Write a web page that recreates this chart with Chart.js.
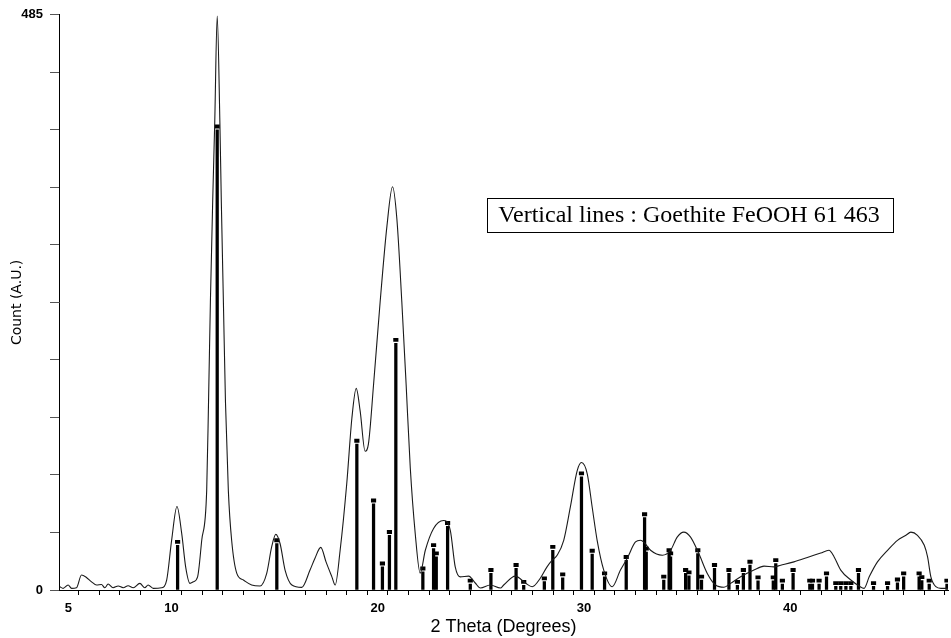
<!DOCTYPE html>
<html>
<head>
<meta charset="utf-8">
<title>XRD pattern - Goethite</title>
<script src="https://cdn.jsdelivr.net/npm/chart.js@4.4.0/dist/chart.umd.min.js"></script>
<style>
  html, body { margin: 0; padding: 0; background: #fff; }
  .chart-container { position: relative; width: 951px; height: 638px; }
</style>
</head>
<body>
<div class="chart-container">
  <canvas id="myChart"></canvas>
</div>
<script>
// measured pattern (2 theta, counts)
const twoTheta = [
  4.59, 4.75, 4.99, 5.16, 5.40, 5.64, 5.88, 6.13, 6.37, 6.61, 6.77, 6.93, 7.17, 7.42, 7.66, 7.90,
  8.15, 8.47, 8.71, 8.87, 9.12, 9.52, 9.77, 10.01, 10.27, 10.50, 10.69, 10.90, 11.06, 11.27, 11.47,
  11.71, 11.80, 11.89, 12.00, 12.10, 12.22, 12.35, 12.42, 12.52, 12.62, 12.76, 12.92, 13.17, 13.49,
  13.89, 14.30, 14.62, 14.86, 15.06, 15.27, 15.51, 15.84, 16.32, 16.72, 16.96, 17.24, 17.50, 17.78,
  17.94, 18.18, 18.50, 18.75, 18.96, 19.15, 19.39, 19.55, 19.80, 20.12, 20.45, 20.72, 20.93, 21.17,
  21.38, 21.58, 21.82, 22.06, 22.31, 22.71, 23.19, 23.52, 23.76, 24.00, 24.41, 24.73, 24.98, 25.46,
  25.95, 26.11, 26.67, 27.16, 27.49, 27.89, 28.21, 28.46, 28.70, 29.02, 29.34, 29.67, 29.88, 30.16,
  30.40, 30.64, 30.96, 31.37, 31.77, 32.10, 32.50, 32.74, 32.90, 33.23, 33.80, 34.20, 34.52, 34.84,
  35.17, 35.57, 35.98, 36.38, 36.79, 37.11, 37.60, 38.24, 38.73, 39.21, 39.54, 40.18, 40.83, 41.48,
  41.88, 42.13, 42.45, 42.94, 43.34, 43.58, 43.83, 44.23, 44.72, 45.20, 45.61, 45.85, 46.17, 46.50,
  46.66, 46.82, 47.06, 47.31, 47.65
];
const counts = [
  2.8, 1.4, 4.2, 1.4, 1.9, 12.6, 10.6, 6.9, 4.2, 4.7, 1.9, 5.0, 1.9, 3.4, 1.9, 3.6,
  1.9, 5.6, 1.9, 4.2, 1.4, 1.9, 8.4, 41.9, 70.4, 47.5, 19.5, 5.6, 6.9, 11.1, 41.9,
  83.8, 159, 243, 327, 394, 484, 394, 327, 243, 159, 83.8, 41.9, 14.0, 8.4,
  4.2, 3.4, 14.0, 36.3, 46.9, 39.0, 16.8, 4.2, 2.2, 16.8, 26.8, 35.9, 23.5, 11.1,
  4.2, 33.5, 89.6, 145, 170, 151, 117, 123, 173, 243, 307, 340, 313, 243,
  173, 103, 47.7, 14.2, 33.5, 51.9, 58.6, 50.3, 19.5, 11.1, 11.7, 5.9, 1.7, 4.2,
  1.7, 4.2, 11.7, 5.9, 2.8, 10.1, 19.5, 25.1, 29.3, 41.9, 69.8, 100.5, 107.5, 98.0,
  69.8, 41.9, 16.8, 2.8, 16.8, 26.8, 40.5, 41.9, 40.5, 33.5, 29.3, 33.5, 44.6, 48.8,
  44.6, 30.7, 14.0, 4.2, 2.3, 5.6, 11.1, 16.8, 20.1, 19.5, 20.9, 23.7, 27.4, 31.2,
  33.5, 27.9, 16.8, 8.4, 3.4, 1.4, 11.1, 23.7, 33.5, 41.9, 46.1, 48.8, 46.1, 37.7,
  27.9, 11.1, 2.8, 1.4, 1.4
];

// reference lines (goethite card)
const stickPos = [
  10.30, 12.22, 15.11, 18.99, 19.80, 20.23, 20.57, 20.88, 22.19, 22.71, 22.84, 23.39, 24.49,
  25.49, 26.71, 27.08, 28.08, 28.49, 28.97, 29.88, 30.40, 31.00, 32.05, 32.94, 33.02, 33.87,
  34.13, 34.20, 34.93, 35.09, 35.52, 35.70, 36.33, 37.03, 37.44, 37.73, 38.05, 38.44, 39.18,
  39.30, 39.62, 40.14, 40.95, 41.08, 41.40, 41.76, 42.21, 42.45, 42.70, 42.94, 43.31, 44.04,
  44.72, 45.20, 45.50, 46.25, 46.38, 46.74, 47.60
];
const stickHeight = [
  37.7, 388, 39.1, 123, 72.6, 19.5, 46.1, 208, 15.3, 35, 28, 53.6, 5,
  14, 18.2, 4, 7, 33.5, 10.3, 95.5, 30.2, 11.2, 25, 61, 32, 8.4,
  30.7, 28, 14, 12, 30.7, 8.4, 18.2, 14, 4, 14, 21, 7.8, 7.8,
  22.3, 5, 14, 5, 5, 5, 11.2, 3, 3, 3, 3, 14, 3,
  3, 6, 11.2, 11.2, 8, 5, 5
];

const xLabels = [5, 10, 20, 30, 40];
const yLabels = [0, 485];
const yStep = 48.5;
const legendText = 'Vertical lines : Goethite FeOOH 61 463';

const legendBox = {
  id: 'legendBox',
  afterDraw(chart) {
    const c = chart.ctx;
    c.save();
    c.strokeStyle = '#000';
    c.lineWidth = 1;
    c.strokeRect(487.5, 198.5, 406, 34);
    c.fillStyle = '#000';
    c.font = '24px "Liberation Serif", "Times New Roman", serif';
    c.textAlign = 'center';
    c.textBaseline = 'middle';
    c.fillText(legendText, 689, 216);
    c.restore();
  }
};

const ctx = document.getElementById('myChart').getContext('2d');
new Chart(ctx, {
  type: 'line',
  data: {
    datasets: [
      {
        type: 'line',
        label: 'Pattern',
        data: twoTheta.map((x, i) => ({ x: x, y: counts[i] })),
        borderColor: '#1a1a1a',
        borderWidth: 1.1,
        pointRadius: 0,
        cubicInterpolationMode: 'monotone',
        order: 0
      },
      {
        type: 'bar',
        label: 'Goethite',
        data: stickPos.map((x, i) => ({ x: x, y: stickHeight[i] })),
        backgroundColor: '#000',
        barThickness: 2.6,
        grouped: false,
        order: 1
      },
      {
        type: 'bar',
        label: 'Goethite caps',
        data: stickPos.map((x, i) => ({ x: x, y: [stickHeight[i] + 1.5, stickHeight[i] + 4.2] })),
        backgroundColor: '#000',
        barThickness: 4.5,
        grouped: false,
        order: 1
      }
    ]
  },
  options: {
    responsive: true,
    maintainAspectRatio: false,
    animation: false,
    layout: { padding: { top: 11, right: 3, left: 0, bottom: 0 } },
    plugins: {
      legend: { display: false },
      tooltip: { enabled: false }
    },
    scales: {
      x: {
        type: 'linear',
        min: 4.55,
        max: 47.65,
        offset: false,
        afterBuildTicks: (axis) => {
          const t = [];
          for (let v = 5; v <= 47; v++) t.push({ value: v });
          axis.ticks = t;
        },
        afterFit: (axis) => { axis.height = 48; },
        ticks: {
          autoSkip: false,
          maxRotation: 0,
          padding: 6,
          color: '#000',
          font: { family: '"Liberation Sans", Arial, sans-serif', size: 13, weight: 'bold' },
          callback: (v) => (xLabels.includes(v) ? String(v) : '')
        },
        grid: { drawOnChartArea: false, tickLength: 5, color: '#000', lineWidth: 1 },
        border: { display: true, color: '#000', width: 1 },
        title: {
          display: true,
          text: '2 Theta (Degrees)',
          color: '#000',
          font: { family: '"Liberation Sans", Arial, sans-serif', size: 18 },
          padding: { top: 0, bottom: 0 }
        }
      },
      y: {
        min: 0,
        max: 485,
        afterBuildTicks: (axis) => {
          const t = [];
          for (let k = 0; k <= 10; k++) t.push({ value: k * yStep });
          axis.ticks = t;
        },
        afterFit: (axis) => { axis.width = 59; },
        ticks: {
          padding: 7,
          color: '#000',
          font: { family: '"Liberation Sans", Arial, sans-serif', size: 13, weight: 'bold' },
          callback: (v) => (yLabels.includes(v) ? String(v) : '')
        },
        grid: { drawOnChartArea: false, tickLength: 9, color: '#555', lineWidth: 1 },
        border: { display: true, color: '#000', width: 1 },
        title: {
          display: true,
          text: 'Count (A.U.)',
          color: '#000',
          font: { family: '"DejaVu Sans", sans-serif', size: 14 },
          padding: { top: 9, bottom: 0 }
        }
      }
    }
  },
  plugins: [legendBox]
});
</script>
</body>
</html>
